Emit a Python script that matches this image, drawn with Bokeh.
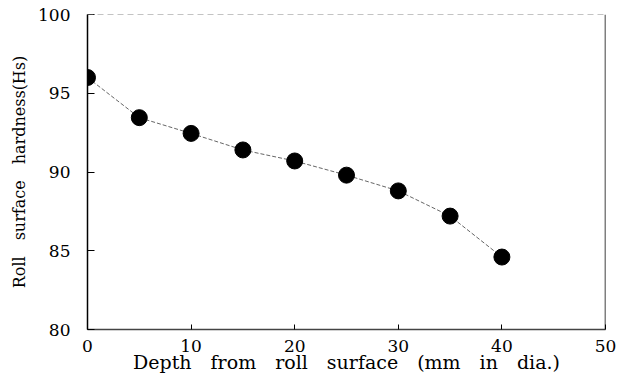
from bokeh.plotting import figure
from bokeh.models import Range1d, FixedTicker, Span
from bokeh.embed import file_html
from bokeh.resources import INLINE

depth = [0, 5, 10, 15, 20, 25, 30, 35, 40]
hardness = [96.0, 93.45, 92.45, 91.4, 90.7, 89.8, 88.8, 87.2, 84.6]
x_ticks = [0, 10, 20, 30, 40, 50]
y_ticks = [80, 85, 90, 95, 100]

FONT = "DejaVu Serif"
SP = "\u2003"

p = figure(width=619, height=375, output_backend="svg", toolbar_location=None,
           x_range=Range1d(0, 50), y_range=Range1d(80, 100),
           min_border_left=87, min_border_right=14, min_border_top=14, min_border_bottom=44)
p.outline_line_color = None
p.grid.visible = False
p.background_fill_color = "white"

p.line(depth, hardness, line_color="#666666", line_width=1, line_dash="4 2")
p.scatter(depth, hardness, size=16, fill_color="black", line_color="black")

for ax in (p.xaxis[0], p.yaxis[0]):
    ax.axis_line_color = "black"
    ax.axis_line_width = 1.5
    ax.major_tick_in = 7
    ax.major_tick_out = 0
    ax.minor_tick_line_color = None
    ax.major_label_text_font = FONT
    ax.major_label_text_font_style = "normal"
    ax.major_label_text_font_size = "17px"
    ax.major_label_text_color = "black"
    ax.axis_label_text_font = FONT
    ax.axis_label_text_font_style = "normal"
    ax.axis_label_text_color = "black"

p.xaxis.axis_line_color = "#444444"
p.xaxis.major_tick_in = 5
p.xaxis.ticker = FixedTicker(ticks=x_ticks)
p.yaxis.ticker = FixedTicker(ticks=y_ticks)
p.xaxis.axis_label = SP.join(["Depth", "from", "roll", "surface", "(mm", "in", "dia.)"])
p.yaxis.axis_label = SP.join(["Roll", "surface", "hardness(Hs)"])
p.xaxis.axis_label_text_font_size = "19px"
p.yaxis.axis_label_text_font_size = "16px"
p.xaxis.major_label_standoff = 10
p.xaxis.axis_label_standoff = -4
p.yaxis.major_label_standoff = 17
p.yaxis.axis_label_standoff = 6

p.add_layout(Span(location=100, dimension="width", line_color="#888888", line_dash="6 4", line_width=1))
p.add_layout(Span(location=50, dimension="height", line_color="black", line_width=1.5))

open("out.html", "w").write(file_html(p, INLINE))
